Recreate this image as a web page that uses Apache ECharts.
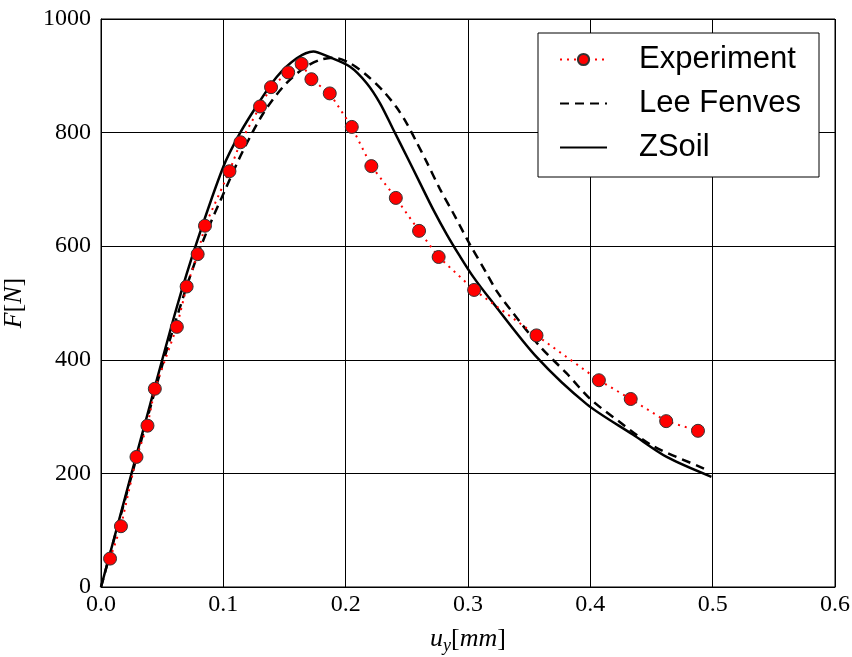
<!DOCTYPE html>
<html>
<head>
<meta charset="utf-8">
<script src="https://cdn.jsdelivr.net/npm/echarts@6/dist/echarts.min.js"></script>
<style>
  html, body { margin: 0; padding: 0; background: #fff; }
  #chart { width: 852px; height: 657px; }
</style>
</head>
<body>
<div id="chart"></div>
<script>
// measured data (u_y in mm, F in N)
var expU = [0.0074, 0.0163, 0.029, 0.038, 0.044, 0.062, 0.070, 0.079, 0.085, 0.105, 0.114, 0.130, 0.139, 0.153, 0.164, 0.172, 0.187, 0.205, 0.221, 0.241, 0.260, 0.276, 0.305, 0.356, 0.407, 0.433, 0.462, 0.488];
var expF = [50, 107, 229, 284, 349, 458, 529, 586, 636, 732, 783, 846, 880, 906, 921, 894, 869, 810, 741, 685, 627, 581, 523, 443, 364, 331, 292, 275];

var leeU = [0, 0.03, 0.05, 0.07, 0.0837, 0.1027, 0.1163, 0.1327, 0.149, 0.1654, 0.179, 0.19, 0.2036, 0.2172, 0.2308, 0.2417, 0.25, 0.258, 0.2663, 0.277, 0.288, 0.3016, 0.315, 0.3235, 0.337, 0.359, 0.3807, 0.4, 0.4243, 0.4515, 0.4924, 0.496];
var leeF = [0, 235, 390, 529, 611, 705, 769, 834, 881, 913, 928, 932, 922, 901, 873, 844, 816, 783, 748, 701, 658, 603, 553, 521, 482, 423, 376, 331, 290, 248, 209, 205];

var zsU = [0, 0.02, 0.04, 0.062, 0.078, 0.1, 0.1136, 0.127, 0.1436, 0.16, 0.1736, 0.1855, 0.2036, 0.2172, 0.228, 0.239, 0.25, 0.2608, 0.2717, 0.2826, 0.2935, 0.3043, 0.318, 0.356, 0.397, 0.435, 0.4624, 0.499];
var zsF = [0, 160, 320, 493, 605, 740, 799, 846, 898, 931, 943, 934, 916, 887, 852, 805, 758, 711, 664, 621, 582, 546, 507, 405, 322, 268, 229, 194];

var xTicks = [0, 0.1, 0.2, 0.3, 0.4, 0.5, 0.6];
var yTicks = [0, 200, 400, 600, 800, 1000];

function pairs(xs, ys) {
  return xs.map(function (x, i) { return [x, ys[i]]; });
}

var chart = echarts.init(document.getElementById('chart'));
var serif = 'Liberation Serif';
var sans = 'Liberation Sans';

chart.setOption({
  animation: false,
  backgroundColor: '#fff',
  grid: {
    left: 101, right: 17, top: 19, bottom: 70,
    outerBoundsMode: 'none',
    show: true, borderColor: '#000', borderWidth: 1
  },
  legend: {
    right: 33, top: 33,
    orient: 'vertical',
    itemWidth: 47, itemHeight: 14,
    itemGap: 13,
    padding: [11, 18, 14, 21],
    borderColor: '#000', borderWidth: 1,
    backgroundColor: '#fff',
    textStyle: { fontFamily: sans, fontSize: 31, color: '#000', padding: [0, 0, 0, 27] },
    data: [
      { name: 'Experiment' },
      { name: 'Lee Fenves', itemStyle: { opacity: 0 } },
      { name: 'ZSoil', itemStyle: { opacity: 0 } }
    ]
  },
  xAxis: {
    type: 'value', min: 0, max: 0.6, interval: 0.1,
    name: '{i|u}{s|y}{n|[}{i|mm}{n|]}',
    nameLocation: 'middle', nameGap: 36,
    nameTextStyle: {
      rich: {
        i: { fontFamily: serif, fontStyle: 'italic', fontSize: 26, color: '#000' },
        s: { fontFamily: serif, fontStyle: 'italic', fontSize: 18, color: '#000', padding: [14, 0, 0, 0] },
        n: { fontFamily: serif, fontSize: 26, color: '#000' }
      }
    },
    axisLine: { lineStyle: { color: '#000', width: 1 } },
    axisTick: { show: false },
    axisLabel: {
      fontFamily: serif, fontSize: 24, color: '#000', margin: 6,
      formatter: function (v) { return v.toFixed(1); },
      customValues: xTicks
    },
    splitLine: { show: true, lineStyle: { color: '#000', width: 1 } }
  },
  yAxis: {
    type: 'value', min: 0, max: 1000, interval: 200,
    name: '{i|F}{n|[}{i|N}{n|]}',
    nameLocation: 'middle', nameGap: 74, nameRotate: 90,
    nameTextStyle: {
      rich: {
        i: { fontFamily: serif, fontStyle: 'italic', fontSize: 26, color: '#000' },
        n: { fontFamily: serif, fontSize: 26, color: '#000' }
      }
    },
    axisLine: { show: true, lineStyle: { color: '#000', width: 1 } },
    axisTick: { show: false },
    axisLabel: {
      fontFamily: serif, fontSize: 24, color: '#000', margin: 10,
      formatter: function (v) { return String(v); },
      customValues: yTicks
    },
    splitLine: { show: true, lineStyle: { color: '#000', width: 1 } }
  },
  series: [
    {
      name: 'Experiment', type: 'line',
      data: pairs(expU, expF),
      symbol: 'circle', symbolSize: 13,
      itemStyle: { color: '#ff0000', borderColor: '#333', borderWidth: 1 },
      lineStyle: { color: '#ff0000', width: 2, type: [2, 5] },
      z: 4
    },
    {
      name: 'Lee Fenves', type: 'line',
      data: pairs(leeU, leeF),
      smooth: 0.3, showSymbol: false, symbol: 'none',
      itemStyle: { color: '#000' },
      lineStyle: { color: '#000', width: 2.5, type: [9, 6] },
      z: 3
    },
    {
      name: 'ZSoil', type: 'line',
      data: pairs(zsU, zsF),
      smooth: 0.3, showSymbol: false, symbol: 'none',
      itemStyle: { color: '#000' },
      lineStyle: { color: '#000', width: 2.5 },
      z: 3
    }
  ]
});
</script>
</body>
</html>
